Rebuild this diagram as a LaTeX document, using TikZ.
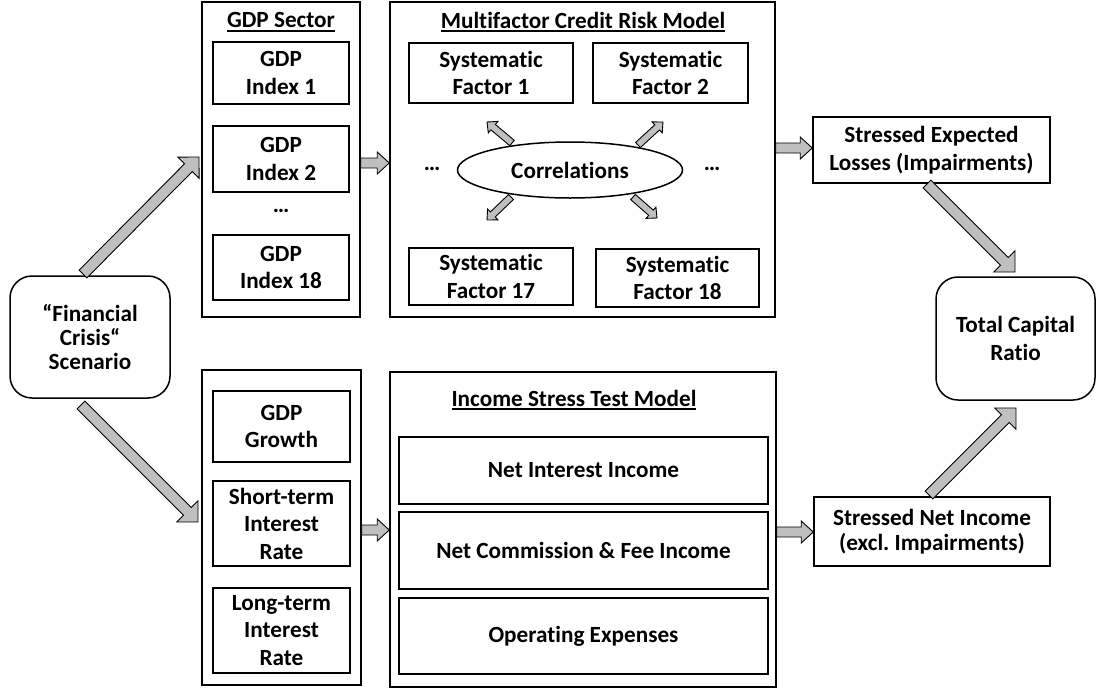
\documentclass[tikz,border=0pt]{standalone}
\usepackage{fontspec}
\setmainfont{Carlito}[Ligatures=NoCommon]
\usetikzlibrary{calc,shapes.geometric}
\definecolor{agray}{HTML}{BFBFBF}
\newcommand\ulbox[1]{\setbox0\hbox{#1}\rlap{\rule[-4pt]{\wd0}{1.7pt}}\box0}
% #1 tail, #2 tip, #3 shaft half width, #4 head half width, #5 head length
\newcommand\barrow[5]{%
  \draw[blockarrow] ($(#1)!#3!90:(#2)$)
    -- ($(#2)!#5!(#1)!#3!90:(#2)$)
    -- ($(#2)!#5!(#1)!#4!90:(#2)$)
    -- (#2)
    -- ($(#2)!#5!(#1)!#4!-90:(#2)$)
    -- ($(#2)!#5!(#1)!#3!-90:(#2)$)
    -- ($(#1)!#3!-90:(#2)$) -- cycle;}
\tikzset{
  bx/.style={draw, line width=1.5pt, inner sep=0pt, align=center,
    font=\fontsize{23.2}{27.5}\selectfont\bfseries},
  bxs/.style={bx, font=\fontsize{23.2}{24.5}\selectfont\bfseries},
  rbx/.style={bx, rounded corners=22pt},
  outer/.style={draw, line width=1.5pt, inner sep=0pt},
  ttl/.style={inner sep=0pt, font=\fontsize{23.2}{24}\selectfont\bfseries},
  dots/.style={inner sep=0pt, font=\fontsize{23.2}{24}\selectfont\bfseries},
  blockarrow/.style={draw, line width=0.9pt, fill=agray, line join=miter},
}
\begin{document}
\begin{tikzpicture}[x=1pt,y=-1pt]
\useasboundingbox (0,0) rectangle (1097,691);
% scenario
\node[rbx, font=\fontsize{23.2}{24}\selectfont\bfseries, minimum width=160, minimum height=122] (scen) at (90,337) {“Financial\\Crisis“\\Scenario};
% GDP sector
\node[outer, minimum width=158, minimum height=315] (gdps) at (281,159.5) {};
\node[ttl] (gdpt) at (281,22) {\ulbox{GDP Sector}};
\node[bx, minimum width=136, minimum height=62] (g1) at (281,73) {GDP\\Index 1};
\node[bx, minimum width=136, minimum height=66] (g2) at (281,159) {GDP\\Index 2};
\node[dots] (gd) at (281,211) {…};
\node[bx, minimum width=136, minimum height=65] (g18) at (281,267.5) {GDP\\Index 18};
% multifactor
\node[outer, minimum width=385, minimum height=315] (mf) at (582.5,159.5) {};
\node[ttl] (mft) at (583,22) {\ulbox{Multifactor Credit Risk Model}};
\node[bx, minimum width=164, minimum height=60] (sf1) at (491,73) {Systematic\\Factor 1};
\node[bx, minimum width=155, minimum height=60] (sf2) at (670.5,73) {Systematic\\Factor 2};
\node[bx, minimum width=164, minimum height=57] (sf17) at (491,276.5) {Systematic\\Factor 17};
\node[bx, minimum width=163, minimum height=58] (sf18) at (677.5,278) {Systematic\\Factor 18};
\node[bx, ellipse, minimum width=225, minimum height=56] (corr) at (570,170) {Correlations};
\node[dots] (dl) at (432,169) {…};
\node[dots] (dr) at (712,169) {…};
% stressed expected losses
\node[bx, minimum width=237, minimum height=66] (se) at (931.5,150) {Stressed Expected\\Losses (Impairments)};
% total capital ratio
\node[rbx, minimum width=159, minimum height=123] (tcr) at (1015.5,338.5) {Total Capital\\Ratio};
% lower left column
\node[outer, minimum width=159, minimum height=315] (mac) at (281.5,527.5) {};
\node[bx, minimum width=137, minimum height=71] (gg) at (281.5,426.5) {GDP\\Growth};
\node[bx, minimum width=137, minimum height=85] (st) at (281.5,523.5) {Short-term\\Interest\\Rate};
\node[bx, minimum width=137, minimum height=85] (lt) at (281.5,630.5) {Long-term\\Interest\\Rate};
% income stress test model
\node[outer, minimum width=386, minimum height=315] (ist) at (583,529.5) {};
\node[ttl] (istt) at (574,400) {\ulbox{Income Stress Test Model}};
\node[bx, minimum width=369, minimum height=67] (nii) at (583.5,470.5) {Net Interest Income};
\node[bx, minimum width=369, minimum height=77] (ncf) at (583.5,550.5) {Net Commission \& Fee Income};
\node[bx, minimum width=369, minimum height=76] (oe) at (583.5,636) {Operating Expenses};
% stressed net income
\node[bxs, minimum width=236, minimum height=69] (sni) at (932,531.5) {Stressed Net Income\\(excl.\ Impairments)};
% arrow end points
\coordinate (a1t) at (83,274);   \coordinate (a1h) at (199,157);
\coordinate (a2t) at (81,405);   \coordinate (a2h) at (198,522);
\coordinate (a3t) at (gdps.east |- 0,163); \coordinate (a3h) at (mf.west |- 0,163);
\coordinate (a4t) at (mac.east |- 0,530);  \coordinate (a4h) at (ist.west |- 0,530);
\coordinate (a5t) at (mf.east |- 0,148);   \coordinate (a5h) at (se.west |- 0,148);
\coordinate (a6t) at (ist.east |- 0,532);  \coordinate (a6h) at (sni.west |- 0,532);
\coordinate (a7t) at (927,184);  \coordinate (a7h) at (1015,272);
\coordinate (a8t) at (929,495);  \coordinate (a8h) at (1016,408);
\coordinate (c1t) at (512,143);  \coordinate (c1h) at (487,122);
\coordinate (c2t) at (638,145);  \coordinate (c2h) at (663,122);
\coordinate (c3t) at (511,197);  \coordinate (c3h) at (487,220);
\coordinate (c4t) at (633,197);  \coordinate (c4h) at (657,218);
% arrows
\barrow{a1t}{a1h}{5.5pt}{15pt}{15pt}
\barrow{a2t}{a2h}{5.5pt}{15pt}{15pt}
\barrow{a3t}{a3h}{5pt}{11pt}{12pt}
\barrow{a4t}{a4h}{5pt}{11pt}{12pt}
\barrow{a5t}{a5h}{5pt}{11pt}{12pt}
\barrow{a6t}{a6h}{5pt}{11pt}{12pt}
\barrow{a7t}{a7h}{5.5pt}{15pt}{15pt}
\barrow{a8t}{a8h}{5.5pt}{15pt}{15pt}
\barrow{c1t}{c1h}{3.5pt}{7.5pt}{8pt}
\barrow{c2t}{c2h}{3.5pt}{7.5pt}{8pt}
\barrow{c3t}{c3h}{3.5pt}{7.5pt}{8pt}
\barrow{c4t}{c4h}{3.5pt}{7.5pt}{8pt}
\end{tikzpicture}
\end{document}
